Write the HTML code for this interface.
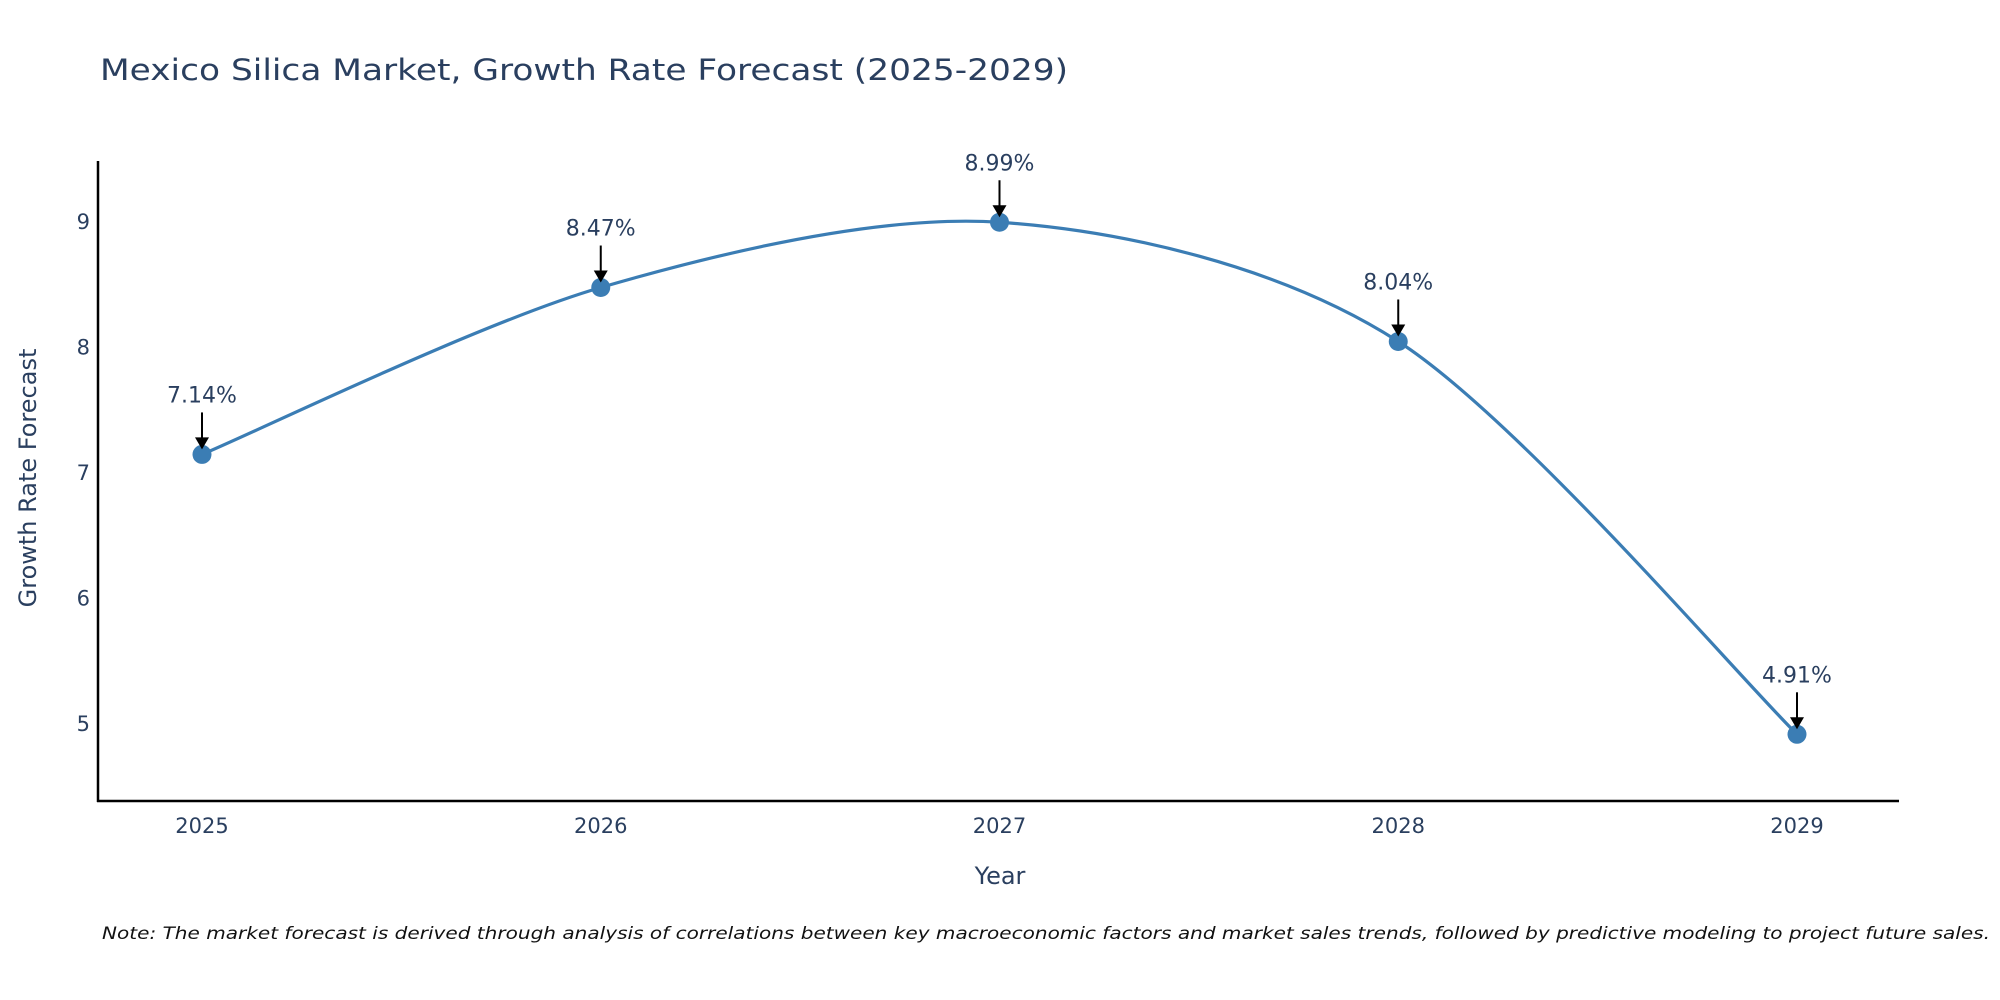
<!DOCTYPE html>
<html><head><meta charset="utf-8">
<style>
html,body{margin:0;padding:0;background:#fff;}
svg{display:block;font-family:"DejaVu Sans","Liberation Sans",Arial,sans-serif;}
</style></head>
<body>
<svg id="chart" width="2000" height="1000" viewBox="0 0 2000 1000">
<text x="100" y="80" font-size="29" fill="#2a3f5f" textLength="968" lengthAdjust="spacingAndGlyphs">Mexico Silica Market, Growth Rate Forecast (2025-2029)</text>
<g id="axes"></g>
<g id="series"></g>
<text x="1000" y="884" font-size="24" fill="#2a3f5f" text-anchor="middle">Year</text>
<text x="36" y="478" font-size="24" fill="#2a3f5f" text-anchor="middle" transform="rotate(-90 36 478)">Growth Rate Forecast</text>
<text x="102" y="939" font-size="17" font-style="italic" fill="#111" textLength="1888" lengthAdjust="spacingAndGlyphs">Note: The market forecast is derived through analysis of correlations between key macroeconomic factors and market sales trends, followed by predictive modeling to project future sales.</text>
</svg>
<script>
const years = [2025, 2026, 2027, 2028, 2029];
const values = [7.14, 8.47, 8.99, 8.04, 4.91];
const labels = ["7.14%", "8.47%", "8.99%", "8.04%", "4.91%"];
const yTicks = [5, 6, 7, 8, 9];

const NS = "http://www.w3.org/2000/svg";
function xs(v){ return 202 + (v - 2025) * 398.75; }
function ys(v){ return 723 - (v - 5) * 125.5; }
function mk(tag, attrs, parent){
  const e = document.createElementNS(NS, tag);
  for (const k in attrs) e.setAttribute(k, attrs[k]);
  parent.appendChild(e); return e;
}
const axes = document.getElementById('axes');
const series = document.getElementById('series');

const yAxis = mk('line', {x1:98, y1:161, x2:98, y2:802, stroke:'#000', 'stroke-width':2.5}, axes);


const xAxis = mk('line', {x1:97, y1:801, x2:1899, y2:801, stroke:'#000', 'stroke-width':2.5}, axes);



yTicks.forEach(t => {
  const tx = mk('text', {x:90, y:ys(t)+8, 'font-size':21, fill:'#2a3f5f', 'text-anchor':'end'}, axes);
  tx.textContent = t;
  
  
});
years.forEach(y => {
  const tx = mk('text', {x:xs(y), y:833, 'font-size':21, fill:'#2a3f5f', 'text-anchor':'middle'}, axes);
  tx.textContent = y;
  
  
});

// smooth spline (Catmull-Rom style)
const pts = years.map((y,i)=>[xs(y), ys(values[i])]);
let d = `M${pts[0][0]},${pts[0][1]}`;
const s = 0.15;
for (let i=0;i<pts.length-1;i++){
  const p0 = pts[Math.max(0,i-1)], p1 = pts[i], p2 = pts[i+1], p3 = pts[Math.min(pts.length-1,i+2)];
  const c1 = [p1[0]+(p2[0]-p0[0])*s, p1[1]+(p2[1]-p0[1])*s];
  const c2 = [p2[0]-(p3[0]-p1[0])*s, p2[1]-(p3[1]-p1[1])*s];
  d += ` C${c1[0]},${c1[1]} ${c2[0]},${c2[1]} ${p2[0]},${p2[1]}`;
}
const line = mk('path', {d:d, fill:'none', stroke:'#3b7db4', 'stroke-width':3.2}, series);



pts.forEach((p,i) => {
  const c = mk('circle', {cx:p[0], cy:p[1], r:9.5, fill:'#3b7db4'}, series);
  
  
  const a = mk('line', {x1:p[0], y1:p[1]-42, x2:p[0], y2:p[1]-16, stroke:'#000', 'stroke-width':2}, series);
  
  
  const h = mk('path', {d:`M${p[0]-7},${p[1]-17} L${p[0]+7},${p[1]-17} L${p[0]},${p[1]-5} Z`, fill:'#000'}, series);
  
  
  const t = mk('text', {x:p[0], y:p[1]-52, 'font-size':22, fill:'#2a3f5f', 'text-anchor':'middle'}, series);
  t.textContent = labels[i];
  
  
});
</script>
</body></html>
